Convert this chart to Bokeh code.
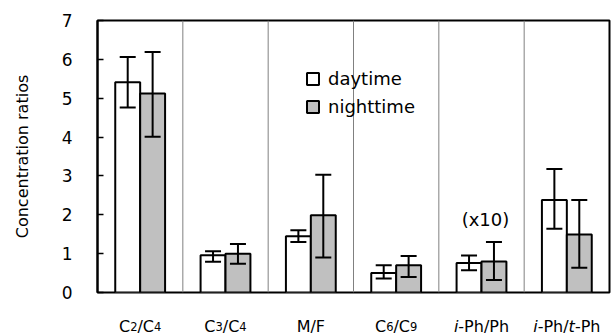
from bokeh.plotting import figure
from bokeh.models import (ColumnDataSource, Whisker, TeeHead, Span, Legend,
                          LegendItem, FixedTicker, FactorRange)
from bokeh.transform import dodge
from bokeh.core.properties import value, field
from bokeh.embed import file_html
from bokeh.resources import INLINE

# ---------------- data ----------------
categories = ["C2/C4", "C3/C4", "M/F", "C6/C9", "i-Ph/Ph", "i-Ph/t-Ph"]
day = [5.41, 0.96, 1.45, 0.50, 0.76, 2.38]
day_lo = [4.76, 0.79, 1.30, 0.36, 0.57, 1.64]
day_hi = [6.06, 1.06, 1.60, 0.70, 0.95, 3.18]
night = [5.12, 1.00, 1.99, 0.70, 0.80, 1.49]
night_lo = [4.01, 0.74, 0.90, 0.40, 0.32, 0.64]
night_hi = [6.19, 1.25, 3.03, 0.94, 1.30, 2.38]
y_ticks = [0, 1, 2, 3, 4, 5, 6, 7]
series_names = ["daytime", "nighttime"]
y_title = "Concentration ratios"
note_text = "(x10)"
note_category = "i-Ph/Ph"

# category labels split into pieces: n = normal, s = subscript, i = italic
label_parts = [
    [("C", "n"), ("2", "s"), ("/", "n"), ("C", "n"), ("4", "s")],
    [("C", "n"), ("3", "s"), ("/", "n"), ("C", "n"), ("4", "s")],
    [("M/F", "n")],
    [("C", "n"), ("6", "s"), ("/", "n"), ("C", "n"), ("9", "s")],
    [("i", "i"), ("-Ph/Ph", "n")],
    [("i", "i"), ("-Ph/", "n"), ("t", "i"), ("-Ph", "n")],
]

# ---------------- styles ----------------
FONT = "DejaVu Sans"
BAR_W = 0.292
OFF = 0.146
GRAY = "#c0c0c0"
LBL_SIZE = 16.0
SUB_SIZE = 11.5
ADV = {"C": 0.698, "2": 0.636, "3": 0.636, "4": 0.636, "6": 0.636, "9": 0.636,
       "/": 0.337, "M": 0.863, "F": 0.575, "i": 0.278, "-": 0.361, "P": 0.603,
       "h": 0.634, "t": 0.392}

src = ColumnDataSource(dict(cat=categories, day=day, day_lo=day_lo, day_hi=day_hi,
                            night=night, night_lo=night_lo, night_hi=night_hi))

p = figure(x_range=FactorRange(*categories), y_range=(0, 7), width=616, height=335,
           output_backend="svg", toolbar_location=None,
           min_border_left=97, min_border_right=7, min_border_top=20,
           min_border_bottom=43)
p.background_fill_color = "white"
p.border_fill_color = "white"
p.outline_line_color = "black"
p.outline_line_width = 2
p.xgrid.visible = False
p.ygrid.visible = False
p.xaxis.visible = False

ya = p.yaxis[0]
ya.ticker = FixedTicker(ticks=y_ticks)
ya.minor_tick_line_color = None
ya.major_tick_in = 6
ya.major_tick_out = 0
ya.major_tick_line_width = 1.5
ya.major_tick_line_color = "black"
ya.axis_line_width = 2
ya.axis_line_color = "black"
ya.major_label_text_font = FONT
ya.major_label_text_font_size = "17px"
ya.major_label_text_color = "black"
ya.major_label_standoff = 25
ya.axis_label = y_title
ya.axis_label_text_font = FONT
ya.axis_label_text_font_size = "16px"
ya.axis_label_text_font_style = "normal"
ya.axis_label_text_color = "black"
ya.axis_label_standoff = 27

# category separators
for b in range(1, len(categories)):
    p.add_layout(Span(location=b, dimension="height", line_color="#808080",
                      line_width=1, level="underlay"))

r_day = p.vbar(x=dodge("cat", -OFF, range=p.x_range), top="day", width=BAR_W,
               source=src, fill_color="white", line_color="black", line_width=2)
r_night = p.vbar(x=dodge("cat", OFF, range=p.x_range), top="night", width=BAR_W,
                 source=src, fill_color=GRAY, line_color="black", line_width=2)

for off, lo, hi in [(-OFF, "day_lo", "day_hi"), (OFF, "night_lo", "night_hi")]:
    w = Whisker(source=src, base=dodge("cat", off, range=p.x_range), lower=lo, upper=hi,
                line_color="black", line_width=2, level="annotation",
                upper_head=TeeHead(size=16, line_width=2, line_color="black"),
                lower_head=TeeHead(size=16, line_width=2, line_color="black"))
    p.add_layout(w)

# legend
legend = Legend(items=[LegendItem(label=series_names[0], renderers=[r_day]),
                       LegendItem(label=series_names[1], renderers=[r_night])],
                location=(208, 175), orientation="vertical",
                glyph_width=15, glyph_height=15, label_standoff=8,
                spacing=7, padding=0, margin=0, label_height=20,
                border_line_color=None, background_fill_alpha=0,
                label_text_font=FONT, label_text_font_size="18px",
                label_text_color="black")
p.add_layout(legend)

# category labels (with subscripts / italics)
rows = dict(x=[], text=[], dx=[], size=[], style=[])
for cat, parts in zip(categories, label_parts):
    widths = []
    for txt, kind in parts:
        sz = SUB_SIZE if kind == "s" else LBL_SIZE
        widths.append(sum(ADV.get(ch, 0.6) for ch in txt) * sz)
    total = sum(widths)
    cur = -total / 2
    for (txt, kind), wd in zip(parts, widths):
        rows["x"].append(cat)
        rows["text"].append(txt)
        rows["dx"].append(cur)
        rows["size"].append("%.1fpx" % (SUB_SIZE if kind == "s" else LBL_SIZE))
        rows["style"].append("italic" if kind == "i" else "normal")
        cur += wd
rows["y"] = [0] * len(rows["x"])
p.text(x="x", y="y", text="text", x_offset="dx", y_offset=34,
       source=ColumnDataSource(rows), text_font=value(FONT),
       text_font_size=field("size"), text_font_style=field("style"),
       text_align="left", text_baseline="alphabetic", text_color="black",
       level="overlay")

# note above i-Ph/Ph
ni = categories.index(note_category)
p.text(x=[note_category], y=[night_hi[ni]], text=[note_text], x_offset=4, y_offset=-22,
       text_font=value(FONT), text_font_size="18px", text_align="center",
       text_baseline="middle", text_color="black", level="overlay")

open("out.html", "w").write(file_html(p, INLINE))
